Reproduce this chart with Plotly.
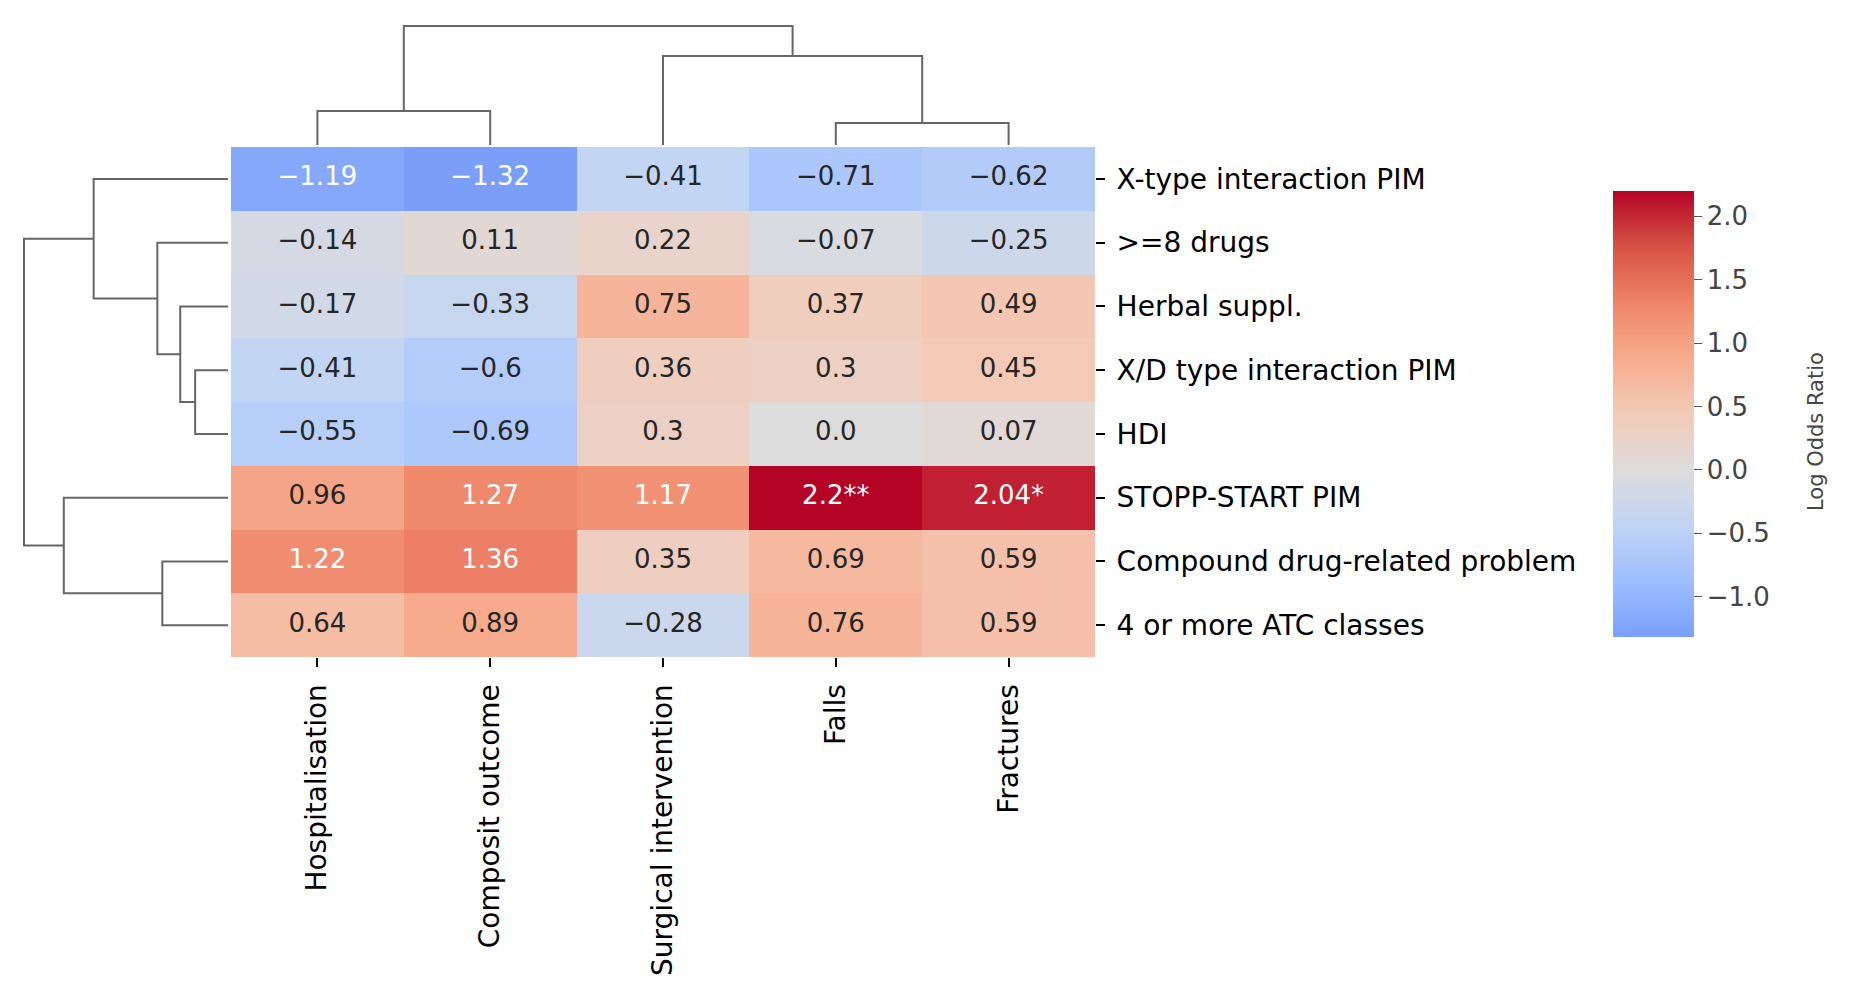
import plotly.graph_objects as go

# clustered heatmap of log odds ratios (rows/cols already in dendrogram order)
row_labels = [
    "X-type interaction PIM",
    ">=8 drugs",
    "Herbal suppl.",
    "X/D type interaction PIM",
    "HDI",
    "STOPP-START PIM",
    "Compound drug-related problem",
    "4 or more ATC classes",
]
col_labels = ["Hospitalisation", "Composit outcome", "Surgical intervention", "Falls", "Fractures"]

log_odds = [
    [-1.19, -1.32, -0.41, -0.71, -0.62],
    [-0.14, 0.11, 0.22, -0.07, -0.25],
    [-0.17, -0.33, 0.75, 0.37, 0.49],
    [-0.41, -0.6, 0.36, 0.3, 0.45],
    [-0.55, -0.69, 0.3, 0.0, 0.07],
    [0.96, 1.27, 1.17, 2.2, 2.04],
    [1.22, 1.36, 0.35, 0.69, 0.59],
    [0.64, 0.89, -0.28, 0.76, 0.59],
]
signif = [
    ["", "", "", "", ""],
    ["", "", "", "", ""],
    ["", "", "", "", ""],
    ["", "", "", "", ""],
    ["", "", "", "", ""],
    ["", "", "", "**", "*"],
    ["", "", "", "", ""],
    ["", "", "", "", ""],
]

# linkage: (left, right, distance); ids >= n are earlier merges
row_merges = [(3, 4, 0.33), (2, 8, 0.48), (1, 9, 0.71), (6, 7, 0.66),
              (0, 10, 1.35), (5, 11, 1.65), (12, 13, 2.05)]
col_merges = [(3, 4, 0.22), (0, 1, 0.34), (2, 5, 0.89), (6, 7, 1.19)]

cbar_ticks = [-1.0, -0.5, 0.0, 0.5, 1.0, 1.5, 2.0]

# coolwarm, the part seaborn keeps when centring at 0
coolwarm = ["#7b9ff9", "#9ebeff", "#c0d4f5", "#dddcdc", "#f2cbb7",
            "#f7ac8e", "#ee8468", "#d65244", "#b40426"]

W, H = 1852, 990
OFF = 8  # page body margin
FONT = "DejaVu Sans"
LINE = "#666666"


def px(x):
    return (x - OFF) / W


def py(y):
    return 1 - (y - OFF) / H


def dendro(merges, n):
    pos = list(range(n))
    hgt = [0.0] * n
    along, height = [], []
    for a, b, h in merges:
        along += [pos[a], pos[a], pos[b], pos[b], None]
        height += [hgt[a], h, h, hgt[b], None]
        pos.append((pos[a] + pos[b]) / 2)
        hgt.append(h)
    return along, height


nr, nc = len(row_labels), len(col_labels)
flat = [v for r in log_odds for v in r]

fig = go.Figure()

fig.add_trace(go.Heatmap(
    z=log_odds,
    x=list(range(nc)),
    y=list(range(nr)),
    zmin=min(flat),
    zmax=max(flat),
    colorscale=[[i / (len(coolwarm) - 1), c] for i, c in enumerate(coolwarm)],
    hoverinfo="skip",
    colorbar=dict(
        x=px(1613), xanchor="left", xpad=0,
        y=py(414), yanchor="middle", ypad=0,
        thickness=81, thicknessmode="pixels",
        len=446, lenmode="pixels",
        outlinewidth=0,
        ticks="outside", ticklen=8, tickwidth=1.3, tickcolor="#555",
        tickvals=cbar_ticks, tickformat=".1f",
        tickfont=dict(family=FONT, size=26, color="#444"),
    ),
))

# cell annotations
tx, ty, tt, tc = [], [], [], []
for i in range(nr):
    for j in range(nc):
        v = log_odds[i][j]
        tx.append(j)
        ty.append(i)
        tt.append(str(v).replace("-", "\u2212") + signif[i][j])
        tc.append("white" if abs(v) > 1.0 else "#262626")
fig.add_trace(go.Scatter(
    x=tx, y=ty, text=tt, mode="text",
    textfont=dict(family=FONT, size=26, color=tc),
    hoverinfo="skip", showlegend=False,
))

# row dendrogram (left)
ry, rx = dendro(row_merges, nr)
fig.add_trace(go.Scatter(x=rx, y=ry, mode="lines", xaxis="x2", yaxis="y",
                         line=dict(color=LINE, width=2), hoverinfo="skip", showlegend=False))

# column dendrogram (top)
cx, cy = dendro(col_merges, nc)
fig.add_trace(go.Scatter(x=cx, y=cy, mode="lines", xaxis="x", yaxis="y2",
                         line=dict(color=LINE, width=2), hoverinfo="skip", showlegend=False))

hidden = dict(showgrid=False, zeroline=False, showticklabels=False, ticks="", showline=False)

fig.update_layout(
    width=W, height=H,
    margin=dict(l=0, r=0, t=0, b=0),
    paper_bgcolor="white", plot_bgcolor="white",
    showlegend=False,
    font=dict(family=FONT, size=28, color="black"),
    xaxis=dict(
        domain=[px(231), px(1095)], range=[-0.5, nc - 0.5], anchor="y",
        tickvals=list(range(nc)), ticktext=col_labels, tickangle=-90,
        ticks="outside", ticklen=9, tickwidth=1.5, tickcolor="black",
        ticklabelstandoff=6,
        tickfont=dict(family=FONT, size=28, color="black"),
        showgrid=False, zeroline=False, showline=False,
    ),
    yaxis=dict(
        domain=[py(657), py(147)], range=[nr - 0.5, -0.5], anchor="x",
        side="right",
        tickvals=list(range(nr)), ticktext=row_labels,
        ticks="outside", ticklen=9, tickwidth=1.5, tickcolor="black",
        ticklabelstandoff=6,
        tickfont=dict(family=FONT, size=28, color="black"),
        showgrid=False, zeroline=False, showline=False,
    ),
    xaxis2=dict(domain=[px(20), px(229)], range=[2.09, -0.01], anchor="y", **hidden),
    yaxis2=dict(domain=[py(146), py(20)], range=[-0.01, 1.25], anchor="x", **hidden),
    annotations=[dict(
        text="Log Odds Ratio", textangle=-90,
        x=px(1816), y=py(432), xref="paper", yref="paper",
        xanchor="center", yanchor="middle", showarrow=False,
        font=dict(family=FONT, size=21, color="#444"),
    )],
)

fig.write_html("out.html")
